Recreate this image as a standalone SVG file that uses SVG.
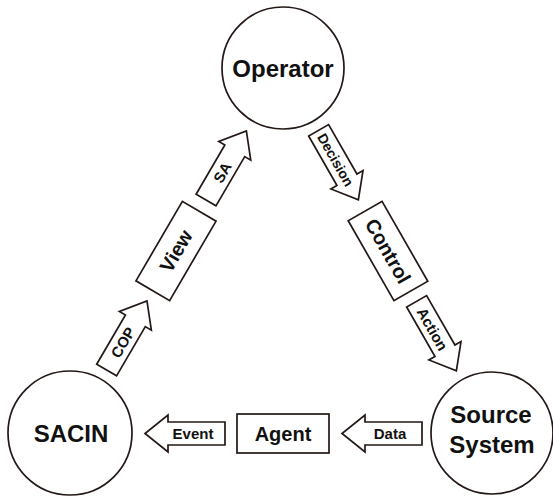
<svg xmlns="http://www.w3.org/2000/svg" width="553" height="496" viewBox="0 0 553 496">
  <defs>
    <style>
      .outline { fill: #ffffff; stroke: #231815; stroke-width: 1.7; stroke-linejoin: miter; }
      text { font-family: "Liberation Sans", Arial, Helvetica, sans-serif; font-weight: bold; fill: #111111; text-anchor: middle; }
      .big { font-size: 24px; }
      .mid { font-size: 20px; }
      .small { font-size: 15px; }
      .small.long { font-size: 14px; }
    </style>
    <!-- block arrow pointing along +x, centred on the origin, 80 long -->
    <path id="block-arrow" d="M-40,-11.5 H17 V-18.5 L40,0 L17,18.5 V11.5 H-40 Z"/>
    <!-- label box, 92 x 39, centred on the origin -->
    <rect id="label-box" x="-46" y="-19.5" width="92" height="39"/>
  </defs>

  <rect x="0" y="0" width="553" height="496" fill="#ffffff"/>

  <!-- main entities -->
  <g id="operator">
    <circle class="outline" cx="283" cy="68" r="61"/>
    <text class="big" x="283" y="77">Operator</text>
  </g>
  <g id="sacin">
    <circle class="outline" cx="70" cy="433" r="62"/>
    <text class="big" x="71" y="442">SACIN</text>
  </g>
  <g id="source-system">
    <circle class="outline" cx="492" cy="433" r="61"/>
    <text class="big" x="491" y="423">Source</text>
    <text class="big" x="492" y="453">System</text>
  </g>

  <!-- intermediate stages -->
  <g id="view" transform="translate(176,251) rotate(-59.7)">
    <use href="#label-box" class="outline"/>
    <text class="mid" x="0" y="7">View</text>
  </g>
  <g id="control" transform="translate(388,251) rotate(60.2)">
    <use href="#label-box" class="outline"/>
    <text class="mid" x="0" y="7">Control</text>
  </g>
  <g id="agent" transform="translate(283,433.5)">
    <use href="#label-box" class="outline"/>
    <text class="mid" x="0" y="7">Agent</text>
  </g>

  <!-- flow arrows -->
  <g id="connectors">
    <g id="cop" transform="translate(126.8,335.5) rotate(-59.7)">
      <use href="#block-arrow" class="outline"/>
      <text class="small" x="-8" y="5.5">COP</text>
    </g>
    <g id="sa" transform="translate(226.2,165.5) rotate(-59.7)">
      <use href="#block-arrow" class="outline"/>
      <text class="small" x="-8" y="5.5">SA</text>
    </g>
    <g id="decision" transform="translate(338.5,165) rotate(60.2)">
      <use href="#block-arrow" class="outline"/>
      <text class="small long" x="-6" y="5">Decision</text>
    </g>
    <g id="action" transform="translate(436.5,336) rotate(60.2)">
      <use href="#block-arrow" class="outline"/>
      <text class="small" x="-8" y="5.5">Action</text>
    </g>
    <g id="data" transform="translate(382,433.5)">
      <use href="#block-arrow" class="outline" transform="rotate(180)"/>
      <text class="small" x="8" y="5.5">Data</text>
    </g>
    <g id="event" transform="translate(185,433.5)">
      <use href="#block-arrow" class="outline" transform="rotate(180)"/>
      <text class="small" x="8" y="5.5">Event</text>
    </g>
  </g>
</svg>
